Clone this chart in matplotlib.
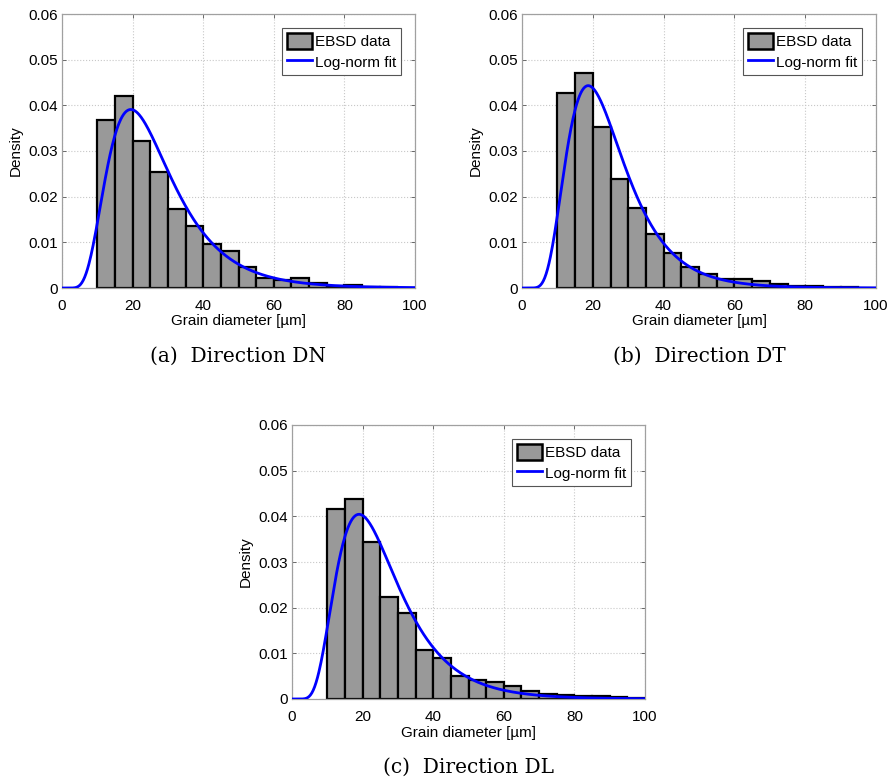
import numpy as np
from matplotlib import pyplot as plt
from matplotlib.patches import Patch
from matplotlib.lines import Line2D

# histogram bins: width 5 um from 10 to 100
bin_edges = np.arange(10, 105, 5)

# bar densities
dens_dn = [0.0368, 0.0421, 0.0322, 0.0254, 0.0174, 0.0135, 0.0097, 0.0081, 0.0045,
           0.0021, 0.0018, 0.0021, 0.0011, 0.0004, 0.0006, 0.0002, 0.0003, 0.0001]
dens_dt = [0.0428, 0.0470, 0.0353, 0.0239, 0.0176, 0.0118, 0.0077, 0.0047, 0.0030,
           0.0020, 0.0020, 0.0015, 0.0009, 0.0004, 0.0004, 0.0002, 0.0003, 0.0001]
dens_dl = [0.0415, 0.0439, 0.0344, 0.0223, 0.0188, 0.0107, 0.0089, 0.0050, 0.0042,
           0.0037, 0.0028, 0.0018, 0.0012, 0.0009, 0.0007, 0.0006, 0.0004, 0.0003]

# log-normal fit parameters (mu, sigma of ln d)
fit_dn = (3.190, 0.469)
fit_dt = (3.120, 0.4375)
fit_dl = (3.161, 0.466)

captions = ['(a)  Direction DN', '(b)  Direction DT', '(c)  Direction DL']
yticks = [0, 0.01, 0.02, 0.03, 0.04, 0.05, 0.06]
yticklabels = ['0', '0.01', '0.02', '0.03', '0.04', '0.05', '0.06']
xticks = [0, 20, 40, 60, 80, 100]


def lognorm_pdf(x, mu, sigma):
    return np.exp(-(np.log(x) - mu)**2 / (2 * sigma**2)) / (x * sigma * np.sqrt(2 * np.pi))


def histPanel(fig, rect, dens, fit, caption):
    ax = fig.add_axes(rect)
    ax.bar(bin_edges[:-1], dens, width=5, align='edge', color='#999999',
           edgecolor='black', linewidth=1.6, zorder=2)
    xs = np.linspace(0.01, 100, 500)
    ax.plot(xs, lognorm_pdf(xs, *fit), color='#0000ff', linewidth=2, zorder=3)
    ax.set_xlim(0, 100)
    ax.set_ylim(0, 0.06)
    ax.set_xticks(xticks)
    ax.set_yticks(yticks)
    ax.set_yticklabels(yticklabels)
    ax.grid(True, linestyle=':', color='#c8c8c8', linewidth=0.8, zorder=0)
    ax.tick_params(direction='in', length=3, width=0.6, color='#555555',
                   labelsize=11, top=True, right=True, pad=3)
    ax.tick_params(axis='x', pad=8)
    for sp in ax.spines.values():
        sp.set_color('#a0a0a0')
        sp.set_linewidth(0.9)
    ax.set_xlabel('Grain diameter [\u00b5m]', fontsize=11, labelpad=1)
    ax.set_ylabel('Density', fontsize=11, labelpad=4)
    handles = [Patch(facecolor='#999999', edgecolor='black', linewidth=1.8),
               Line2D([], [], color='#0000ff', linewidth=2)]
    leg = ax.legend(handles, ['EBSD data', 'Log-norm fit'], loc='upper right',
                    fontsize=11, fancybox=False, framealpha=1,
                    handlelength=1.6, handleheight=1.2, handletextpad=0.2,
                    borderpad=0.35, labelspacing=0.3, borderaxespad=0.9)
    leg.get_frame().set_edgecolor('#555555')
    leg.get_frame().set_linewidth(0.8)
    ax.text(0.5, -0.25, caption, transform=ax.transAxes, ha='center', va='center',
            fontsize=14.5, family='DejaVu Serif')
    return ax


plt.rcParams['font.family'] = ['Liberation Sans', 'DejaVu Sans']
fig = plt.figure(figsize=(8.89, 7.83), dpi=100)

W, H = 889.0, 783.0
histPanel(fig, [62 / W, (H - 288) / H, 353 / W, 274 / H], dens_dn, fit_dn, captions[0])
histPanel(fig, [522 / W, (H - 288) / H, 354 / W, 274 / H], dens_dt, fit_dt, captions[1])
histPanel(fig, [292 / W, (H - 699) / H, 353 / W, 274 / H], dens_dl, fit_dl, captions[2])

fig.savefig('out.png', dpi=100)
plt.close()
